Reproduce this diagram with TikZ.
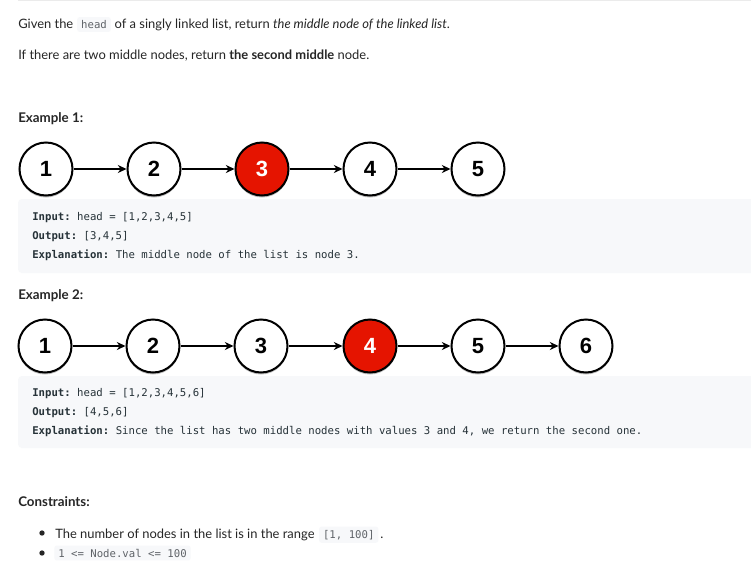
\documentclass[tikz,border=0pt]{standalone}
\usepackage{fontspec}
\setmainfont{Lato}
\setmonofont{DejaVu Sans Mono}
\newfontfamily\numfont{Liberation Sans}
\usetikzlibrary{arrows.meta,shadows}
\definecolor{txt}{RGB}{38,38,38}
\definecolor{codebg}{RGB}{247,248,250}
\definecolor{codetxt}{RGB}{38,50,56}
\definecolor{inl}{RGB}{95,99,104}
\definecolor{redmid}{RGB}{229,20,0}
\definecolor{rulecol}{RGB}{235,235,235}
\begin{document}
\begin{tikzpicture}[x=0.75pt,y=-0.75pt,
  body/.style={anchor=base west, inner sep=0pt, text=txt, font=\fontsize{9.7}{12}\selectfont},
  heading/.style={body, font=\fontsize{10}{12}\selectfont\bfseries},
  mono/.style={anchor=base west, inner sep=0pt, text=codetxt, font=\fontsize{8}{10}\ttfamily},
  inline/.style={anchor=base west, fill=codebg, rounded corners=2pt, text=inl, font=\fontsize{8}{10}\ttfamily, inner xsep=3pt, inner ysep=2.5pt},
  lnode/.style={circle, draw=black, line width=1.5pt, fill=white, minimum size=39.75pt, inner sep=0pt,
    font=\fontsize{16.5}{16.5}\numfont\bfseries,
    drop shadow={shadow xshift=0pt, shadow yshift=-1.5pt, opacity=0.25, fill=black}},
  midnode/.style={lnode, fill=redmid, text=white},
  link/.style={-{Stealth[length=6.5pt,width=6pt]}, line width=1.1pt},
  panel/.style={fill=codebg, rounded corners=3pt}
]
\useasboundingbox (0,0) rectangle (751,568);
\fill[white] (0,0) rectangle (751,568);
\draw[rulecol, line width=1pt] (18,0.7) -- (751,0.7);

% intro
\node[body] (g1) at (18,28.5) {Given the};
\node[inline] (g2) at ([xshift=2.5pt]g1.base east) {head};
\node[body] (g3) at ([xshift=2.5pt]g2.base east) {of a singly linked list, return \textit{the middle node of the linked list}.};
\node[body] (g4) at (18,59.5) {If there are two middle nodes, return \textbf{the second middle} node.};

% example 1
\node[heading] (h1) at (18,122.5) {Example 1:};
\fill[panel] (18,199) rectangle (760,273);
\node[lnode] (a1) at (46,169) {1};
\node[lnode] (a2) at (154,169) {2};
\node[midnode] (a3) at (262,169) {3};
\node[lnode] (a4) at (370,169) {4};
\node[lnode] (a5) at (478,169) {5};
\foreach \i/\j in {a1/a2,a2/a3,a3/a4,a4/a5} \draw[link] (\i) -- (\j);
\node[mono] (i1) at (32,220.5) {\textbf{Input:} head = [1,2,3,4,5]};
\node[mono] (o1) at (32,239.5) {\textbf{Output:} [3,4,5]};
\node[mono] (x1) at (32,258.5) {\textbf{Explanation:} The middle node of the list is node 3.};

% example 2
\node[heading] (h2) at (18,299.5) {Example 2:};
\fill[panel] (18,376) rectangle (760,448);
\node[lnode] (b1) at (45,346) {1};
\node[lnode] (b2) at (153,346) {2};
\node[lnode] (b3) at (261,346) {3};
\node[midnode] (b4) at (370,346) {4};
\node[lnode] (b5) at (478,346) {5};
\node[lnode] (b6) at (586,346) {6};
\foreach \i/\j in {b1/b2,b2/b3,b3/b4,b4/b5,b5/b6} \draw[link] (\i) -- (\j);
\node[mono] (i2) at (32,396.5) {\textbf{Input:} head = [1,2,3,4,5,6]};
\node[mono] (o2) at (32,415.5) {\textbf{Output:} [4,5,6]};
\node[mono] (x2) at (32,434.5) {\textbf{Explanation:} Since the list has two middle nodes with values 3 and 4, we return the second one.};

% constraints
\node[heading] (h3) at (18,506.5) {Constraints:};
\fill[txt] (42,533) circle[radius=2pt];
\node[body] (c1) at (55,538) {The number of nodes in the list is in the range};
\node[inline] (c2) at ([xshift=3pt]c1.base east) {[1, 100]};
\node[body] (c3) at ([xshift=1pt]c2.base east) {.};
\fill[txt] (42,553) circle[radius=2pt];
\node[inline] (c4) at (54,557) {1 <= Node.val <= 100};
\end{tikzpicture}
\end{document}
